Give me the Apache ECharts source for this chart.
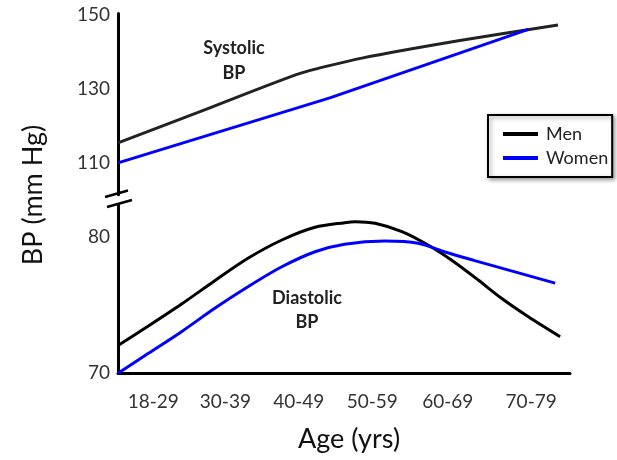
<!DOCTYPE html>
<html>
<head>
<meta charset="utf-8">
<script src="https://cdn.jsdelivr.net/npm/echarts@6/dist/echarts.min.js"></script>
<style>html,body{margin:0;padding:0;background:#fff}#c{width:617px;height:460px}</style>
</head>
<body>
<div id="c"></div>
<script>
// Tick labels (x) and their positions on the age scale
const ageLabels = ['18-29', '30-39', '40-49', '50-59', '60-69', '70-79'];
const ageLabelPos = [23, 33.2, 43.6, 54, 64.7, 76.5];
const sysTicks = [110, 130, 150];
const diaTicks = [70, 80];

// Systolic BP
const sysMenAge = [18, 31.0, 43.8, 52.7, 66.4, 80.3];
const sysMen = [115.5, 125.0, 134.3, 138.5, 143.2, 147.4];
const sysWomenAge = [18, 48, 76.1];
const sysWomen = [110.1, 127.7, 146.2];

// Diastolic BP
const diaMenAge = [18.0, 22.3, 27.0, 31.7, 36.4, 41.2, 45.9, 50.1, 51.6, 54.4, 58.2, 61.9, 65.2, 69.0, 72.3, 76.1, 80.6];
const diaMen = [72.03, 73.46, 75.07, 76.78, 78.42, 79.76, 80.69, 81.03, 81.1, 80.98, 80.37, 79.39, 78.29, 76.83, 75.49, 74.14, 72.68];
const diaWomenAge = [18.0, 22.3, 27.0, 31.7, 36.4, 41.2, 45.9, 50.1, 55.8, 60.5, 64.3, 68.5, 72.3, 76.1, 79.9];
const diaWomen = [70.0, 71.46, 73.05, 74.76, 76.34, 77.8, 78.9, 79.45, 79.68, 79.52, 78.88, 78.25, 77.7, 77.15, 76.6];

const zip = (a, b) => a.map((v, i) => [v, b[i]]);
const FONT = 'Lato';
const axisLineStyle = { color: '#000', width: 3 };

const chart = echarts.init(document.getElementById('c'), null, { renderer: 'canvas' });
chart.setOption({
  animation: false,
  backgroundColor: '#fff',
  textStyle: { fontFamily: FONT },
  grid: [
    { left: 118, right: 47, top: 13.5, height: 181.25 },
    { left: 118, right: 47, top: 205.3, height: 168 }
  ],
  xAxis: [
    { type: 'value', gridIndex: 0, min: 18, max: 82, show: false },
    {
      type: 'value', gridIndex: 1, min: 18, max: 82,
      axisLine: { show: true, onZero: false, lineStyle: axisLineStyle },
      axisTick: { show: false },
      splitLine: { show: false },
      axisLabel: {
        customValues: ageLabelPos,
        formatter: v => { const i = ageLabelPos.indexOf(v); return i >= 0 ? ageLabels[i] : ''; },
        fontSize: 19, color: '#333', margin: 19, fontFamily: FONT
      },
      name: 'Age (yrs)', nameLocation: 'middle', nameGap: 52,
      nameTextStyle: { fontSize: 27, color: '#111', fontFamily: FONT, padding: [0, 0, 0, 10] }
    }
  ],
  yAxis: [
    {
      type: 'value', gridIndex: 0, min: 101.5, max: 150.5,
      axisLine: { show: true, onZero: false, lineStyle: axisLineStyle },
      axisTick: { show: false }, splitLine: { show: false },
      axisLabel: { customValues: sysTicks, fontSize: 19, color: '#333', margin: 8, fontFamily: FONT }
    },
    {
      type: 'value', gridIndex: 1, min: 70, max: 82.3,
      axisLine: { show: true, onZero: false, lineStyle: axisLineStyle },
      axisTick: { show: false }, splitLine: { show: false },
      axisLabel: { customValues: diaTicks, fontSize: 19, color: '#333', margin: 8, fontFamily: FONT }
    }
  ],
  legend: {
    orient: 'vertical', left: 488, top: 115,
    data: ['Men', 'Women'],
    icon: 'rect',
    itemWidth: 35, itemHeight: 4, itemGap: 6,
    padding: [10, 4, 10, 15],
    borderColor: '#000', borderWidth: 2, backgroundColor: '#fff',
    shadowBlur: 4, shadowColor: 'rgba(0,0,0,0.35)', shadowOffsetX: 2, shadowOffsetY: 2,
    textStyle: { fontSize: 18, color: '#222', fontFamily: FONT, padding: [0, 0, 0, 3] }
  },
  series: [
    { name: 'Men', type: 'line', xAxisIndex: 0, yAxisIndex: 0, data: zip(sysMenAge, sysMen), symbol: 'none', smooth: 0.2, lineStyle: { color: '#222', width: 3 }, itemStyle: { color: '#000' } },
    { name: 'Women', type: 'line', xAxisIndex: 0, yAxisIndex: 0, data: zip(sysWomenAge, sysWomen), symbol: 'none', lineStyle: { color: '#0000ff', width: 3 }, itemStyle: { color: '#0000ff' } },
    { name: 'Men', type: 'line', xAxisIndex: 1, yAxisIndex: 1, data: zip(diaMenAge, diaMen), symbol: 'none', smooth: 0.3, lineStyle: { color: '#000', width: 3 }, itemStyle: { color: '#000' } },
    { name: 'Women', type: 'line', xAxisIndex: 1, yAxisIndex: 1, data: zip(diaWomenAge, diaWomen), symbol: 'none', smooth: 0.3, lineStyle: { color: '#0000ff', width: 3 }, itemStyle: { color: '#0000ff' } }
  ],
  graphic: [
    { type: 'text', x: 33, y: 195, rotation: Math.PI / 2, style: { text: 'BP (mm Hg)', font: '27px Lato', fill: '#111', align: 'center', verticalAlign: 'middle' } },
    { type: 'text', x: 234, y: 48, style: { text: 'Systolic', font: 'bold 18px Lato', fill: '#222', align: 'center', verticalAlign: 'middle' } },
    { type: 'text', x: 234, y: 73, style: { text: 'BP', font: 'bold 18px Lato', fill: '#222', align: 'center', verticalAlign: 'middle' } },
    { type: 'text', x: 307, y: 298, style: { text: 'Diastolic', font: 'bold 18px Lato', fill: '#222', align: 'center', verticalAlign: 'middle' } },
    { type: 'text', x: 307, y: 322, style: { text: 'BP', font: 'bold 18px Lato', fill: '#222', align: 'center', verticalAlign: 'middle' } },
    { type: 'line', shape: { x1: 105, y1: 197, x2: 128, y2: 190.5 }, style: { stroke: '#000', lineWidth: 2.5 } },
    { type: 'line', shape: { x1: 107, y1: 207, x2: 132, y2: 200 }, style: { stroke: '#000', lineWidth: 2.5 } }
  ]
});
</script>
</body>
</html>
